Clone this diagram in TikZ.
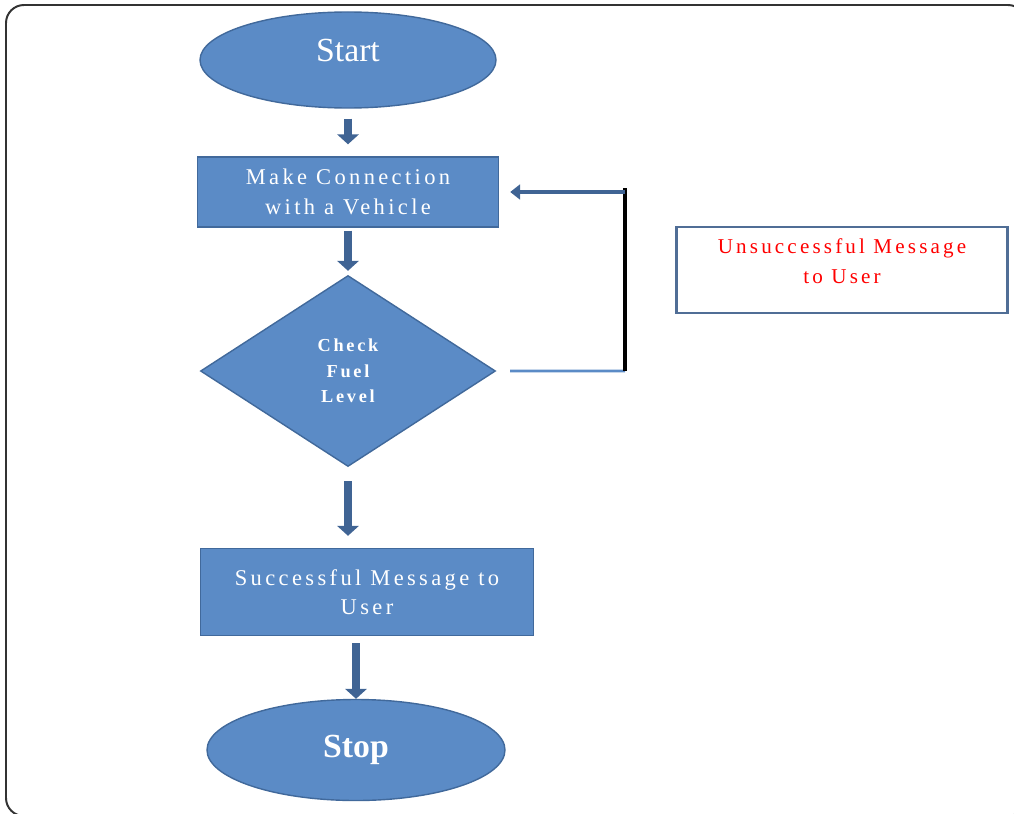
\documentclass[tikz,border=0pt]{standalone}
\usepackage{fontspec}
\setmainfont{Liberation Serif}
\usetikzlibrary{shapes.geometric,arrows.meta}
\definecolor{boxfill}{RGB}{91,139,198}
\definecolor{boxedge}{RGB}{65,105,155}
\definecolor{arrowblue}{RGB}{64,100,148}
\definecolor{noteedge}{RGB}{80,110,150}
\newcommand{\spaced}{\addfontfeature{LetterSpace=15}}
\tikzstyle{terminal} = [draw=boxedge, fill=boxfill, ellipse, line width=1pt, text=white, inner sep=0pt, font=\fontsize{24}{28}\selectfont]
\tikzstyle{block} = [draw=boxedge, fill=boxfill, rectangle, line width=1pt, text=white, align=center, inner sep=0pt, font=\fontsize{16}{21}\selectfont\spaced]
\tikzstyle{decision} = [draw=boxedge, fill=boxfill, diamond, line width=1pt, text=white, align=center, inner sep=0pt, font=\fontsize{13}{18}\selectfont\bfseries\spaced]
\tikzstyle{note} = [draw=noteedge, fill=white, rectangle, line width=2pt, text=red, align=center, inner sep=0pt, text depth=0.45cm, font=\fontsize{15}{21}\selectfont\spaced]
\tikzstyle{line} = [draw=arrowblue, line width=5pt, -{Triangle[width=15pt,length=7pt]}]
\tikzstyle{backline} = [draw=arrowblue, line width=2.8pt, -{Triangle[width=10.5pt,length=7pt]}]

\begin{document}
\begin{tikzpicture}[node distance=3.3cm]
    \useasboundingbox (0,0) rectangle (25.35,-20.325);
    \draw[line width=1.4pt, black!80, rounded corners=0.45cm] (0.15,-0.125) rectangle (25.65,-20.4);
    \node[terminal, minimum width=7.4cm, minimum height=2.4cm, text depth=0.5cm] (start) at (8.7,-1.5) {Start};
    \node[block, below of=start, minimum width=7.525cm, minimum height=1.75cm] (conn) {Make Connection\\with a Vehicle};
    \node[decision, below of=conn, node distance=4.475cm, minimum width=7.375cm, minimum height=4.775cm] (fuel) {Check\\Fuel\\Level};
    \node[block, below of=fuel, node distance=5.525cm, xshift=0.475cm, minimum width=8.325cm, minimum height=2.175cm] (okmsg) {Successful Message to\\User};
    \node[terminal, below of=okmsg, node distance=3.95cm, xshift=-0.275cm, minimum width=7.45cm, minimum height=2.525cm, text depth=0.2cm, font=\fontsize{24}{28}\selectfont\bfseries] (stop) {Stop};
    \node[note, right of=conn, node distance=12.35cm, yshift=-1.95cm, minimum width=8.275cm, minimum height=2.15cm] (failmsg) {Unsuccessful Message\\to User};
    \coordinate (fblow) at (15.625,-9.275);
    \coordinate (fbup) at (fblow |- conn.east);
    \path[line, shorten <=0.25cm, shorten >=0.3cm] (start.south) -- (conn.north);
    \path[line, shorten <=0.075cm, shorten >=0.1cm] (conn.south) -- (fuel.north);
    \path[line, shorten <=0.35cm, shorten >=0.3cm] (fuel.south) -- (fuel.south |- okmsg.north);
    \path[line, shorten <=0.175cm] (stop.north |- okmsg.south) -- (stop.north);
    \draw[boxfill, line width=2pt, shorten <=0.35cm] (fuel.east) -- (fblow);
    \draw[black, line width=2.8pt, shorten >=-0.1cm] (fblow) -- (fbup);
    \path[backline, shorten >=0.275cm] (fbup) -- (conn.east);
\end{tikzpicture}
\end{document}
